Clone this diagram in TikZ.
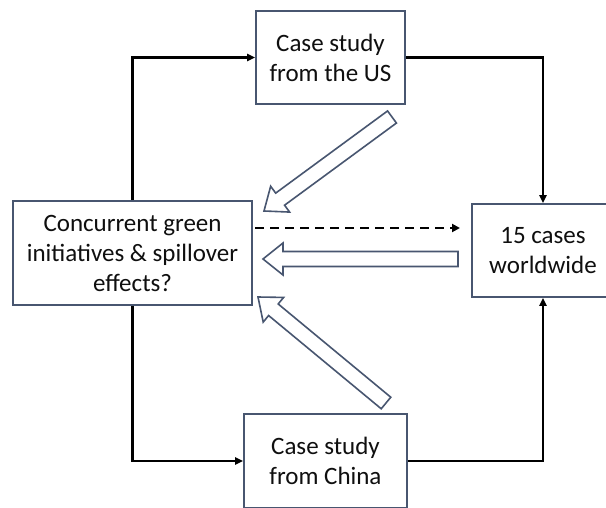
\documentclass[tikz,border=0pt]{standalone}
\usepackage{fontspec}
\setmainfont{Carlito}
\usetikzlibrary{calc,arrows.meta}
\definecolor{boxc}{RGB}{72,86,112}
\definecolor{txtc}{RGB}{15,15,15}
\newcommand\hollowarrow[2]{%
  \coordinate (hb) at ($(#1)!20pt!(#2)$);
  \draw[hollow] (#1) -- ($(hb)!16pt!90:(#2)$) -- ($(hb)!7.5pt!90:(#2)$)
    -- ($(#2)!7.5pt!-90:(#1)$) -- ($(#2)!7.5pt!90:(#1)$)
    -- ($(hb)!7.5pt!-90:(#2)$) -- ($(hb)!16pt!-90:(#2)$) -- cycle;}
\begin{document}
\begin{tikzpicture}[x=1pt,y=1pt,
  box/.style={draw=boxc, line width=1.8pt, fill=white, align=center, inner sep=0pt,
    font=\fontsize{25}{30}\selectfont, text=txtc},
  conn/.style={line width=2.2pt, -{Triangle[length=8pt,width=7pt]}},
  dconn/.style={line width=2.2pt, dash pattern=on 9pt off 6pt, -{Triangle[length=8pt,width=8pt]}},
  hollow/.style={draw=boxc, line width=1.6pt, fill=white, line join=miter}]
\clip (0,0) rectangle (606,507);
\fill[white] (0,0) rectangle (606,507);
\node[box, minimum width=149pt, minimum height=93pt] (us) at (330.5,449.5) {Case study\\from the US};
\node[box, minimum width=239pt, minimum height=104pt] (left) at (132.5,254) {Concurrent green\\initiatives \& spillover\\effects?};
\node[box, minimum width=142pt, minimum height=93pt] (right) at (543,256.5) {15 cases\\worldwide};
\node[box, minimum width=163pt, minimum height=94pt] (china) at (325.5,46) {Case study\\from China};
\draw[conn] (left.north) |- (us.west);
\draw[conn] (us.east) -| (right.north);
\draw[conn] (left.south) |- (china.west);
\draw[conn] (china.east) -| (right.south);
\coordinate (dstart) at (255,279);
\coordinate (dend) at (460,279);
\draw[dconn] (dstart) -- (dend);
\coordinate (htip) at (263,248);
\coordinate (htail) at (458,248);
\coordinate (utip) at (264,296);
\coordinate (utail) at (392,390);
\coordinate (ltip) at (258,210);
\coordinate (ltail) at (386,104);
\hollowarrow{htip}{htail}
\hollowarrow{utip}{utail}
\hollowarrow{ltip}{ltail}
\end{tikzpicture}
\end{document}
